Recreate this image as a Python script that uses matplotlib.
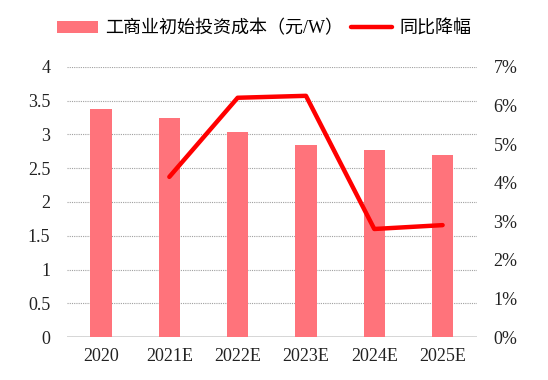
import matplotlib.pyplot as plt
import numpy as np

plt.rcParams['font.serif'] = ['Liberation Serif', 'DejaVu Serif']
plt.rcParams['font.family'] = ['serif', 'Noto Sans CJK SC']

years = ['2020', '2021E', '2022E', '2023E', '2024E', '2025E']
cost = [3.38, 3.24, 3.04, 2.85, 2.77, 2.69]
drop_years = ['2021E', '2022E', '2023E', '2024E', '2025E']
drop = [4.15, 6.2, 6.25, 2.8, 2.9]

x = np.arange(len(years))
x2 = np.array([years.index(y) for y in drop_years])

fig = plt.figure(figsize=(5.48, 3.80), dpi=100)
ax = fig.add_axes([0.122, 0.113, 0.748, 0.711])
ax2 = ax.twinx()

ax.bar(x, cost, width=0.31, color='#ff737b', zorder=2, label='工商业初始投资成本（元/W）')
ax2.plot(x2, drop, color='#ff0000', linewidth=3.2, solid_capstyle='round', zorder=3, label='同比降幅')

ax.set_xlim(-0.5, 5.5)
ax.set_ylim(0, 4)
ax.set_yticks(np.arange(0, 4.01, 0.5))
ax.set_yticklabels(['0', '0.5', '1', '1.5', '2', '2.5', '3', '3.5', '4'])
ax2.set_ylim(0, 7)
ax2.set_yticks(range(0, 8))
ax2.set_yticklabels([f'{i}%' for i in range(8)])
ax.set_xticks(x)
ax.set_xticklabels(years)

ax.yaxis.grid(True, linestyle=(0, (1, 1)), color='#a0a0a0', linewidth=0.8, zorder=0)
ax.set_axisbelow(True)

for a in (ax, ax2):
    for s in ['top', 'right', 'left', 'bottom']:
        a.spines[s].set_visible(False)
    a.tick_params(length=0, labelsize=13, colors='#222222')
ax.axhline(0, color='#d0d0d0', linewidth=1.2, zorder=1)
ax.tick_params(axis='y', pad=12)
ax2.tick_params(axis='y', pad=12)
ax.tick_params(axis='x', pad=8)

h1, l1 = ax.get_legend_handles_labels()
h2, l2 = ax2.get_legend_handles_labels()
fig.legend(h1 + h2, l1 + l2, loc='upper center', bbox_to_anchor=(0.482, 0.99), ncol=2,
           frameon=False, fontsize=13, handlelength=2.3, columnspacing=0.4, handletextpad=0.4)

plt.savefig('out.png')
